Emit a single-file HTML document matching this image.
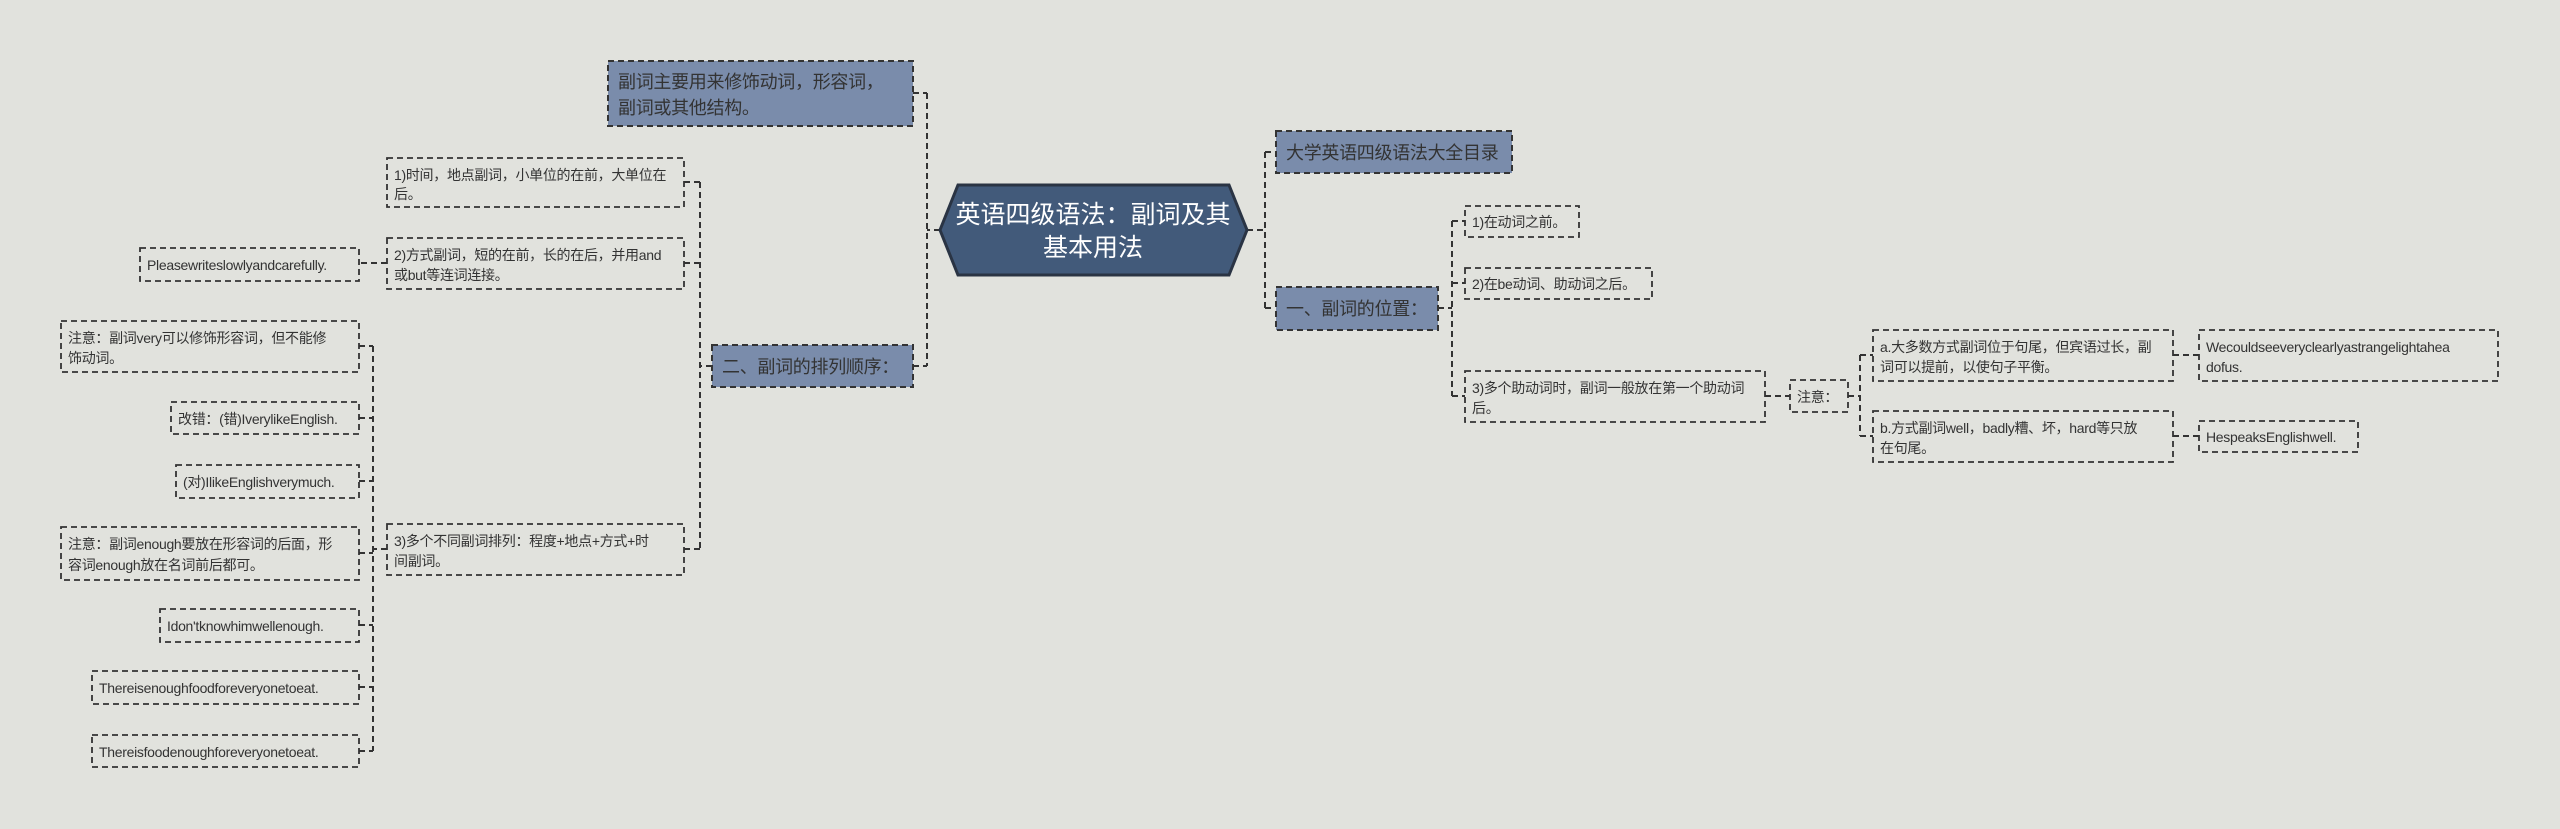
<!DOCTYPE html>
<html><head><meta charset="utf-8"><style>
html,body{margin:0;padding:0;background:#e1e2dd;}
svg{display:block}
text{font-family:"Liberation Sans","Noto Sans CJK SC",sans-serif;fill:#333;}
.s{font-size:14px;letter-spacing:-0.3px}
.m{font-size:18px;letter-spacing:-0.3px}
</style></head><body>
<svg width="2560" height="829" viewBox="0 0 2560 829" xmlns="http://www.w3.org/2000/svg">
<rect width="2560" height="829" fill="#e1e2dd"/>
<g fill="none" stroke="#333" stroke-width="2" stroke-dasharray="6,4">
<path d="M940 230H927M927 93V366M913 93H927M913 366H927"/>
<path d="M712 366H700M700 182V549M684 182H700M684 263H700M684 549H700"/>
<path d="M387 263H359"/>
<path d="M387 549H373M373 346V751M359 346H373M359 418H373M359 481H373M359 553H373M359 625H373M359 687H373M359 751H373"/>
<path d="M1247 230H1265M1265 152V308M1265 152H1275M1265 308H1275"/>
<path d="M1438 308H1452M1452 221V396M1452 221H1465M1452 283H1465M1452 396H1465"/>
<path d="M1765 396H1790M1848 396H1860M1860 355V436M1860 355H1873M1860 436H1873"/>
<path d="M2173 355H2199M2173 436H2199"/>
</g>
<g fill="#7a8cab" stroke="#333" stroke-width="2" stroke-dasharray="6,4">
<rect x="608" y="61" width="305" height="65"/>
<rect x="712" y="345" width="201" height="42"/>
<rect x="1276" y="131" width="236" height="42"/>
<rect x="1276" y="287" width="162" height="43"/>
</g>
<polygon points="958,185 1229,185 1247,230 1229,275 958,275 940,230" fill="#425a7a" stroke="#2a3444" stroke-width="3"/>
<text x="1093" y="223" text-anchor="middle" style="font-size:25px;fill:#fff">英语四级语法：副词及其</text>
<text x="1093" y="256" text-anchor="middle" style="font-size:25px;fill:#fff">基本用法</text>
<text class="m" x="618" y="88">副词主要用来修饰动词，形容词，</text>
<text class="m" x="618" y="114">副词或其他结构。</text>
<text class="m" x="722" y="373">二、副词的排列顺序：</text>
<text class="m" x="1286" y="159">大学英语四级语法大全目录</text>
<text class="m" x="1286" y="315">一、副词的位置：</text>
<g fill="none" stroke="#333" stroke-width="1.8" stroke-dasharray="6,4">
<rect x="387" y="158" width="297" height="49"/>
<rect x="387" y="238" width="297" height="51"/>
<rect x="387" y="524" width="297" height="51"/>
<rect x="140" y="248" width="219" height="33"/>
<rect x="61" y="321" width="298" height="51"/>
<rect x="171" y="402" width="188" height="32"/>
<rect x="176" y="465" width="183" height="33"/>
<rect x="61" y="527" width="298" height="53"/>
<rect x="160" y="609" width="199" height="33"/>
<rect x="92" y="671" width="267" height="33"/>
<rect x="92" y="735" width="267" height="32"/>
<rect x="1465" y="206" width="114" height="31"/>
<rect x="1465" y="268" width="187" height="31"/>
<rect x="1465" y="371" width="300" height="51"/>
<rect x="1790" y="380" width="58" height="32"/>
<rect x="1873" y="330" width="300" height="51"/>
<rect x="1873" y="411" width="300" height="51"/>
<rect x="2199" y="330" width="299" height="51"/>
<rect x="2199" y="421" width="159" height="31"/>
</g>
<g>
<text class="s" x="394" y="180">1)时间，地点副词，小单位的在前，大单位在</text>
<text class="s" x="394" y="199">后。</text>
<text class="s" x="394" y="260">2)方式副词，短的在前，长的在后，并用and</text>
<text class="s" x="394" y="280">或but等连词连接。</text>
<text class="s" x="394" y="546">3)多个不同副词排列：程度+地点+方式+时</text>
<text class="s" x="394" y="566">间副词。</text>
<text class="s" x="147" y="270">Pleasewriteslowlyandcarefully.</text>
<text class="s" x="68" y="343">注意：副词very可以修饰形容词，但不能修</text>
<text class="s" x="68" y="363">饰动词。</text>
<text class="s" x="178" y="424">改错：(错)IverylikeEnglish.</text>
<text class="s" x="183" y="487">(对)IlikeEnglishverymuch.</text>
<text class="s" x="68" y="549">注意：副词enough要放在形容词的后面，形</text>
<text class="s" x="68" y="570">容词enough放在名词前后都可。</text>
<text class="s" x="167" y="631">Idon'tknowhimwellenough.</text>
<text class="s" x="99" y="693">Thereisenoughfoodforeveryonetoeat.</text>
<text class="s" x="99" y="757">Thereisfoodenoughforeveryonetoeat.</text>
<text class="s" x="1472" y="227">1)在动词之前。</text>
<text class="s" x="1472" y="289">2)在be动词、助动词之后。</text>
<text class="s" x="1472" y="393">3)多个助动词时，副词一般放在第一个助动词</text>
<text class="s" x="1472" y="413">后。</text>
<text class="s" x="1797" y="402">注意：</text>
<text class="s" x="1880" y="352">a.大多数方式副词位于句尾，但宾语过长，副</text>
<text class="s" x="1880" y="372">词可以提前，以使句子平衡。</text>
<text class="s" x="1880" y="433">b.方式副词well，badly糟、坏，hard等只放</text>
<text class="s" x="1880" y="453">在句尾。</text>
<text class="s" x="2206" y="352">Wecouldseeveryclearlyastrangelightahea</text>
<text class="s" x="2206" y="372">dofus.</text>
<text class="s" x="2206" y="442">HespeaksEnglishwell.</text>
</g>
</svg>
</body></html>
